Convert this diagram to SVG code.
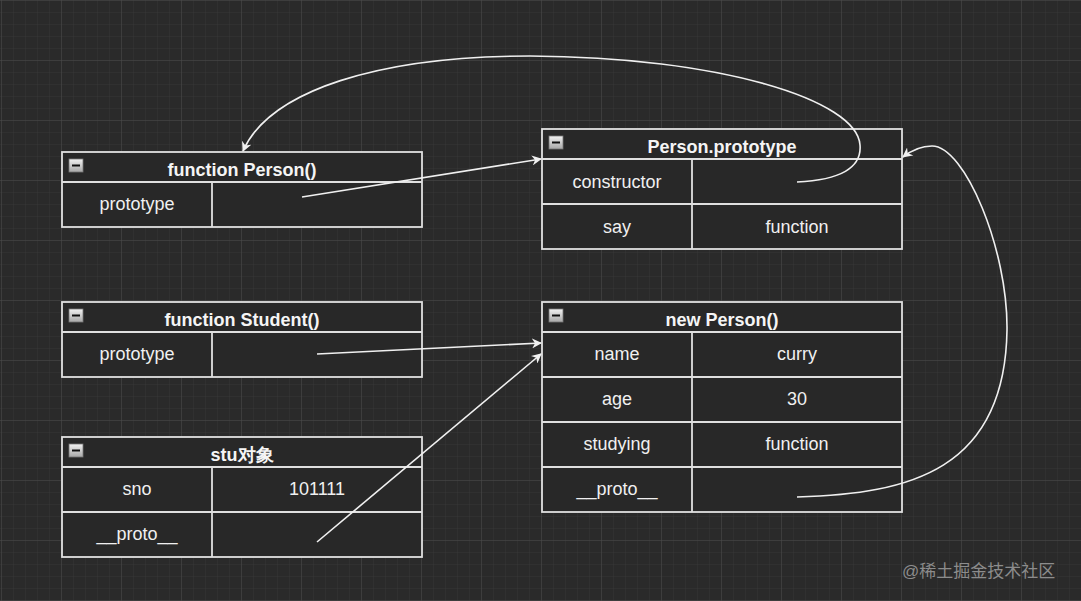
<svg xmlns="http://www.w3.org/2000/svg" width="1081" height="601" viewBox="0 0 1081 601">
<defs>
<pattern id="minor" width="12" height="12" x="1" y="0" patternUnits="userSpaceOnUse">
<path d="M12,0 L0,0 L0,12" fill="none" stroke="#363636" stroke-width="1"/>
</pattern>
<pattern id="major" width="60" height="60" x="1" y="0" patternUnits="userSpaceOnUse">
<path d="M60,0 L0,0 L0,60" fill="none" stroke="#4a4a4a" stroke-width="1"/>
</pattern>
<linearGradient id="btn" x1="0" y1="0" x2="0" y2="1">
<stop offset="0" stop-color="#f2f2f2"/>
<stop offset="1" stop-color="#a8a8a8"/>
</linearGradient>
<marker id="arrow" viewBox="0 0 10 10" refX="9" refY="5" markerWidth="10" markerHeight="10" markerUnits="userSpaceOnUse" orient="auto">
<path d="M0,0 L10,5 L0,10 L3,5 Z" fill="#f0f0f0"/>
</marker>
</defs>
<style>
.cell{fill:#282828;stroke:#e0e0e0;stroke-width:1.8}
.hd{font-family:"Liberation Sans",Arial,sans-serif;font-size:18px;font-weight:bold;fill:#f5f5f5;text-anchor:middle}
.tx{font-family:"Liberation Sans",Arial,sans-serif;font-size:18px;fill:#f0f0f0;text-anchor:middle}
.btn{fill:url(#btn);stroke:#777;stroke-width:0.8}
.minus{stroke:#111;stroke-width:2}
.edge{fill:none;stroke:#f0f0f0;stroke-width:1.6;marker-end:url(#arrow)}
.wm{font-family:"Liberation Sans","Noto Sans CJK SC",sans-serif;font-size:17px;fill:#8c8c8c}
</style>
<rect width="1081" height="601" fill="#2a2a2a"/>
<rect width="1081" height="601" fill="url(#minor)"/>
<rect width="1081" height="601" fill="url(#major)"/>

<g id="function-person">
<rect class="cell" x="62" y="152" width="360" height="75"/>
<line class="cell" x1="62" y1="182" x2="422" y2="182"/>
<line class="cell" x1="212" y1="182" x2="212" y2="227"/>
<rect class="btn" x="69" y="159" width="14" height="13"/>
<line class="minus" x1="72" y1="165.5" x2="80" y2="165.5"/>
<text class="hd" x="242" y="176">function Person()</text>
<text class="tx" x="137" y="210">prototype</text>
</g>

<g id="person-prototype">
<rect class="cell" x="542" y="129" width="360" height="120"/>
<line class="cell" x1="542" y1="159" x2="902" y2="159"/>
<line class="cell" x1="542" y1="204" x2="902" y2="204"/>
<line class="cell" x1="692" y1="159" x2="692" y2="249"/>
<rect class="btn" x="549" y="136" width="14" height="13"/>
<line class="minus" x1="552" y1="142.5" x2="560" y2="142.5"/>
<text class="hd" x="722" y="153">Person.prototype</text>
<text class="tx" x="617" y="188">constructor</text>
<text class="tx" x="617" y="233">say</text>
<text class="tx" x="797" y="233">function</text>
</g>

<g id="function-student">
<rect class="cell" x="62" y="302" width="360" height="75"/>
<line class="cell" x1="62" y1="332" x2="422" y2="332"/>
<line class="cell" x1="212" y1="332" x2="212" y2="377"/>
<rect class="btn" x="69" y="309" width="14" height="13"/>
<line class="minus" x1="72" y1="315.5" x2="80" y2="315.5"/>
<text class="hd" x="242" y="326">function Student()</text>
<text class="tx" x="137" y="360">prototype</text>
</g>

<g id="stu-object">
<rect class="cell" x="62" y="437" width="360" height="120"/>
<line class="cell" x1="62" y1="467" x2="422" y2="467"/>
<line class="cell" x1="62" y1="512" x2="422" y2="512"/>
<line class="cell" x1="212" y1="467" x2="212" y2="557"/>
<rect class="btn" x="69" y="444" width="14" height="13"/>
<line class="minus" x1="72" y1="450.5" x2="80" y2="450.5"/>
<text class="hd" x="242" y="461" font-family="'Liberation Sans','Noto Sans CJK SC',sans-serif">stu对象</text>
<text class="tx" x="137" y="495">sno</text>
<text class="tx" x="317" y="495">101111</text>
<text class="tx" x="137" y="540">__proto__</text>
</g>

<g id="new-person">
<rect class="cell" x="542" y="302" width="360" height="210"/>
<line class="cell" x1="542" y1="332" x2="902" y2="332"/>
<line class="cell" x1="542" y1="377" x2="902" y2="377"/>
<line class="cell" x1="542" y1="422" x2="902" y2="422"/>
<line class="cell" x1="542" y1="467" x2="902" y2="467"/>
<line class="cell" x1="692" y1="332" x2="692" y2="512"/>
<rect class="btn" x="549" y="309" width="14" height="13"/>
<line class="minus" x1="552" y1="315.5" x2="560" y2="315.5"/>
<text class="hd" x="722" y="326">new Person()</text>
<text class="tx" x="617" y="360">name</text>
<text class="tx" x="797" y="360">curry</text>
<text class="tx" x="617" y="405">age</text>
<text class="tx" x="797" y="405">30</text>
<text class="tx" x="617" y="450">studying</text>
<text class="tx" x="797" y="450">function</text>
<text class="tx" x="617" y="495">__proto__</text>
</g>

<g id="connectors">
<path class="edge" d="M302,197 L541,159"/>
<path class="edge" d="M317,354 L541,343"/>
<path class="edge" d="M317,542 L541,354"/>
<path class="edge" d="M797,182 C840,180 862,168 860,145 C857,100 720,57 530,56 C380,56 270,90 243,151"/>
<path class="edge" d="M797,497 C910,494 1005,470 1007,330 C1008,250 965,146 932,146 C920,146 912,150 903,157"/>
</g>

<text class="wm" x="902" y="577">@稀土掘金技术社区</text>
</svg>
